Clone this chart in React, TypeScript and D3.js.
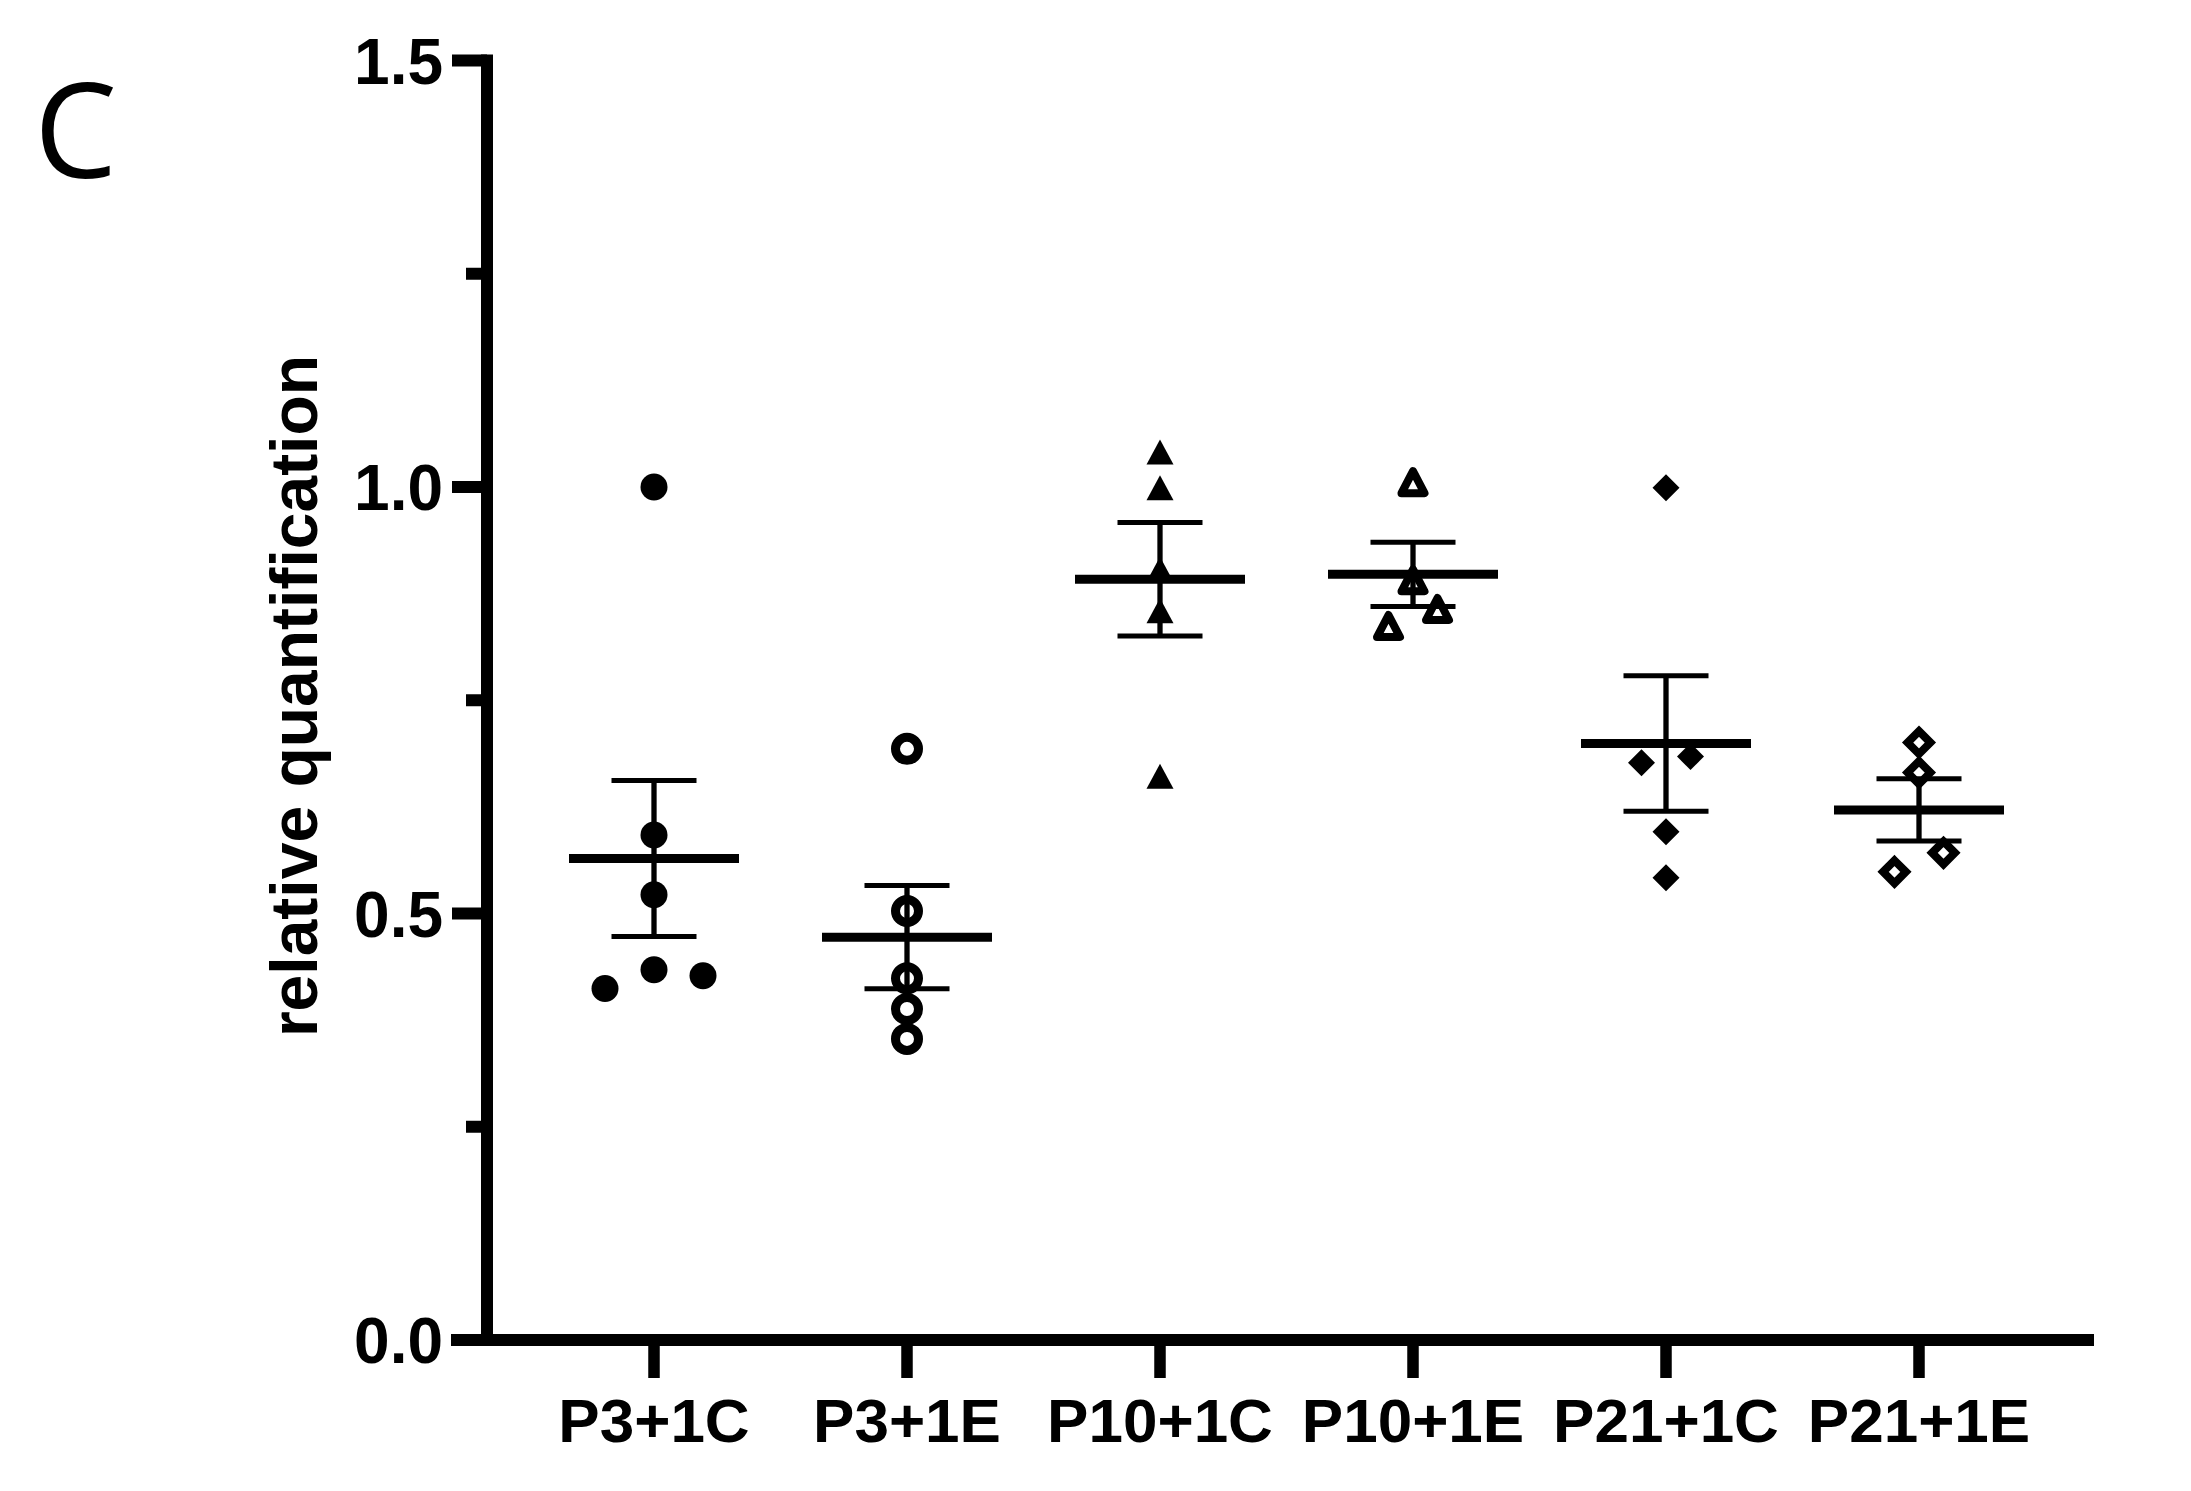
import React from 'react';
import * as d3 from 'd3';

// ---------- data ----------
const categories = ['P3+1C', 'P3+1E', 'P10+1C', 'P10+1E', 'P21+1C', 'P21+1E'];

const valsP3C = [1.0, 0.592, 0.522, 0.434, 0.412, 0.427];
const valsP3E = [0.693, 0.503, 0.424, 0.388, 0.353];
const valsP10C = [1.041, 0.999, 0.9035, 0.855, 0.661];
const valsP10E = [1.0057, 0.8906, 0.857, 0.837];
const valsP21C = [0.999, 0.6766, 0.684, 0.5957, 0.5418];
const valsP21E = [0.7004, 0.6652, 0.5711, 0.5488];

// horizontal scatter slots (in half-symbol units)
const jitP3C = [0, 0, 0, 0, -2, 2];
const jitP3E = [0, 0, 0, 0, 0];
const jitP10C = [0, 0, 0, 0, 0];
const jitP10E = [0, 0, 1, -1];
const jitP21C = [0, -1, 1, 0, 0];
const jitP21E = [0, 0, 1, -1];

const shapes = ['circle', 'circle', 'triangle', 'triangle', 'diamond', 'diamond'];
const filled = [true, false, true, false, true, false];

const yMajorTicks = [0, 0.5, 1.0, 1.5];
const yMinorTicks = [0.25, 0.75, 1.25];
const yDomain = [0, 1.5];

const yTitle = 'relative quantification';
const panelLabel = 'C';

// ---------- layout ----------
const W = 2191;
const H = 1491;
const axisX = 487;
const axisY = 1340;
const topY = 60.5;
const axisRight = 2094;
const lw = 12;

const groups = [
  { vals: valsP3C, jit: jitP3C },
  { vals: valsP3E, jit: jitP3E },
  { vals: valsP10C, jit: jitP10C },
  { vals: valsP10E, jit: jitP10E },
  { vals: valsP21C, jit: jitP21C },
  { vals: valsP21E, jit: jitP21E },
].map((g, i) => {
  const mean = d3.mean(g.vals) as number;
  const sd = d3.deviation(g.vals) as number;
  const sem = sd / Math.sqrt(g.vals.length);
  return { name: categories[i], ...g, mean, sem, shape: shapes[i], filled: filled[i] };
});

function symbolPath(shape: string, isFilled: boolean): string {
  if (shape === 'circle') {
    const r = isFilled ? 13.5 : 11.5;
    return d3.symbol(d3.symbolCircle, Math.PI * r * r)() as string;
  }
  if (shape === 'triangle') {
    const w = isFilled ? 27 : 23;
    const h = isFilled ? 25 : 22;
    const p = d3.path();
    p.moveTo(0, -h / 2);
    p.lineTo(w / 2, h / 2);
    p.lineTo(-w / 2, h / 2);
    p.closePath();
    return p.toString();
  }
  const s = isFilled ? 13.5 : 11.4;
  const p = d3.path();
  p.moveTo(0, -s);
  p.lineTo(s, 0);
  p.lineTo(0, s);
  p.lineTo(-s, 0);
  p.closePath();
  return p.toString();
}

export default function App() {
  const y = d3.scaleLinear().domain(yDomain).range([axisY, topY]);
  const x = d3.scalePoint<string>().domain(categories).range([654, 1919]);
  const slot = 24.5;
  const fmt = d3.format('.1f');
  const font = '"Liberation Sans", Arial, sans-serif';

  return (
    <svg
      width={W}
      height={H}
      viewBox={`0 0 ${W} ${H}`}
      style={{ position: 'absolute', left: 0, top: 0, background: '#fff' }}
    >
      <rect x={0} y={0} width={W} height={H} fill="#fff" />
      {/* panel label */}
      <text x={34} y={178} fontFamily='"Open Sans", "Noto Sans", sans-serif' fontSize={132} fill="#000">
        {panelLabel}
      </text>

      {/* y axis title */}
      <text
        transform={`translate(317, 696) rotate(-90)`}
        textAnchor="middle"
        fontFamily={font}
        fontWeight="bold"
        fontSize={66}
        fill="#000"
      >
        {yTitle}
      </text>

      {/* y axis */}
      <line x1={axisX} x2={axisX} y1={y(yDomain[1]) - lw / 2} y2={axisY} stroke="#000" strokeWidth={lw} />
      {yMajorTicks.map((t) => (
        <g key={'M' + t}>
          <line x1={452} x2={axisX} y1={y(t)} y2={y(t)} stroke="#000" strokeWidth={lw} />
          <text
            x={443}
            y={y(t) + 23}
            textAnchor="end"
            fontFamily={font}
            fontWeight="bold"
            fontSize={64}
            fill="#000"
          >
            {fmt(t)}
          </text>
        </g>
      ))}
      {yMinorTicks.map((t) => (
        <line key={'m' + t} x1={466} x2={axisX} y1={y(t)} y2={y(t)} stroke="#000" strokeWidth={lw} />
      ))}

      {/* x axis */}
      <line x1={451} x2={axisRight} y1={axisY} y2={axisY} stroke="#000" strokeWidth={lw} />
      {categories.map((c) => (
        <g key={c}>
          <line x1={x(c)} x2={x(c)} y1={axisY} y2={1378} stroke="#000" strokeWidth={11.5} />
          <text
            x={x(c)}
            y={1442}
            textAnchor="middle"
            fontFamily={font}
            fontWeight="bold"
            fontSize={62}
            fill="#000"
          >
            {c}
          </text>
        </g>
      ))}

      {/* points */}
      {groups.map((g) => (
        <g key={'pts' + g.name}>
          {g.vals.map((v, j) => (
            <path
              key={j}
              d={symbolPath(g.shape, g.filled)}
              transform={`translate(${(x(g.name) as number) + g.jit[j] * slot}, ${y(v)})`}
              fill={g.filled ? '#000' : 'none'}
              stroke={g.filled ? 'none' : '#000'}
              strokeWidth={g.shape === 'circle' ? 9 : 8}
              strokeLinejoin={g.shape === 'triangle' ? 'round' : 'miter'}
            />
          ))}
        </g>
      ))}

      {/* mean and SEM */}
      {groups.map((g) => {
        const cx = x(g.name) as number;
        return (
          <g key={'err' + g.name} stroke="#000">
            <line x1={cx} x2={cx} y1={y(g.mean + g.sem)} y2={y(g.mean - g.sem)} strokeWidth={5.3} />
            <line x1={cx - 42.5} x2={cx + 42.5} y1={y(g.mean + g.sem)} y2={y(g.mean + g.sem)} strokeWidth={5} />
            <line x1={cx - 42.5} x2={cx + 42.5} y1={y(g.mean - g.sem)} y2={y(g.mean - g.sem)} strokeWidth={5} />
            <line x1={cx - 85} x2={cx + 85} y1={y(g.mean)} y2={y(g.mean)} strokeWidth={9} />
          </g>
        );
      })}
    </svg>
  );
}
